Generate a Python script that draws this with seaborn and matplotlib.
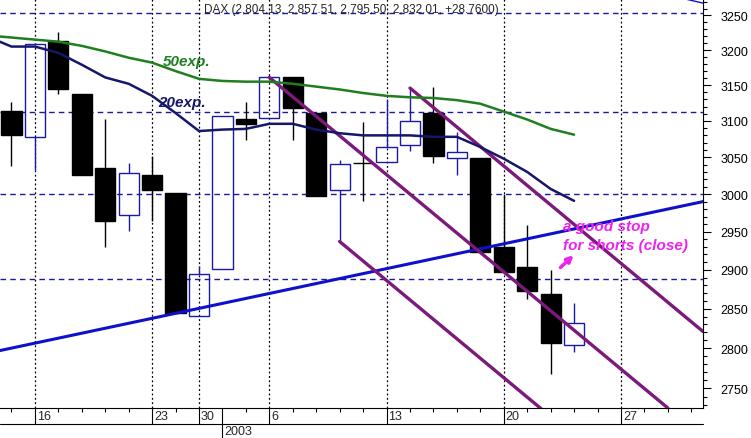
import matplotlib
matplotlib.use("Agg")
import matplotlib.pyplot as plt
from matplotlib import ticker, transforms
import numpy as np
import pandas as pd
import seaborn as sns

# trading sessions shown on the axis (index 0 = 2002-12-13)
sessions = ["2002-12-12", "2002-12-13", "2002-12-16", "2002-12-17", "2002-12-18",
            "2002-12-19", "2002-12-20", "2002-12-23", "2002-12-27", "2002-12-30",
            "2003-01-02", "2003-01-03", "2003-01-06", "2003-01-07", "2003-01-08",
            "2003-01-09", "2003-01-10", "2003-01-13", "2003-01-14", "2003-01-15",
            "2003-01-16", "2003-01-17", "2003-01-20", "2003-01-21", "2003-01-22",
            "2003-01-23", "2003-01-24", "2003-01-27", "2003-01-28", "2003-01-29",
            "2003-01-30", "2003-01-31"]

# daily candles 2002-12-13 .. 2003-01-23
opens = [3114, 3078, 3213, 3138, 3036, 2972, 3026, 3002, 2841, 2901, 3102, 3104, 3161,
         3111, 3005, 3042, 3044, 3067, 3111, 3049, 3049, 2930, 2904, 2869, 2804.13]
highs = [3127, 3210, 3226, 3138, 3103, 3042, 3052, 3002, 2905, 3107, 3126, 3161, 3161,
         3111, 3046, 3098, 3131, 3146, 3148, 3084, 3049, 3000, 2959, 2900, 2857.51]
lows = [3038, 3032, 3138, 3026, 2930, 2951, 2964, 2845, 2841, 2901, 3074, 3104, 3073,
        2998, 2937, 2991, 3044, 3059, 3042, 3026, 2923, 2897, 2863, 2768, 2795.50]
closes = [3081, 3209, 3144, 3026, 2964, 3028, 3005, 2845, 2894, 3107, 3096, 3161, 3118,
          2998, 3041, 3042, 3064, 3100, 3052, 3057, 2923, 2897, 2873, 2807, 2832.01]

# moving averages 2002-12-12 .. 2003-01-23
ema50 = [3221, 3218, 3215, 3212, 3206, 3198, 3189, 3182, 3170, 3159, 3156, 3155, 3155,
         3152, 3148, 3144, 3139, 3135, 3133, 3132, 3129, 3124, 3113, 3102, 3089, 3081]
ema20 = [3219, 3205, 3205, 3196, 3179, 3161, 3152, 3135, 3111, 3086, 3088, 3089, 3096,
         3096, 3088, 3083, 3080, 3080, 3080, 3078, 3078, 3064, 3048, 3030, 3007, 2991]

level_lines = [3253, 3112, 3000, 2888]
week_starts = ["2002-12-16", "2002-12-23", "2002-12-30", "2003-01-06",
               "2003-01-13", "2003-01-20", "2003-01-27"]
year_start = "2003-01-02"

# trend lines: (x0, x1), (y0, y1) in session index / index points
support_x, support_y = (-0.5, 29.5), (2797, 2990)
resist_x, resist_y = (27.5, 29.5), (3284, 3268)
channel_x = [(11, 28), (17, 29.5), (14, 22.6)]
channel_y = [(3161, 2726), (3146, 2821), (2937, 2725)]

title = "DAX (2,804.13, 2,857.51, 2,795.50, 2,832.01, +28.7600)"

sns.set_theme(style="white")
plt.rcParams['font.family'] = ['Liberation Sans', 'DejaVu Sans']

idx = {d: k - 1 for k, d in enumerate(sessions)}
df = pd.DataFrame({"o": opens, "h": highs, "l": lows, "c": closes})
df["x"] = np.arange(len(df))
ma = pd.DataFrame({"x": np.arange(-1, len(ema50) - 1), "e50": ema50, "e20": ema20})

blue_c = "#1a1aa8"
fig = plt.figure(figsize=(7.51, 4.39), dpi=100)
ax = fig.add_axes([0, 30 / 439, 703 / 751, 409 / 439])
ax.set_yscale("log")

for lv in level_lines:
    ax.axhline(lv, color="#1a1a9a", lw=1, ls=(0, (4, 3)), zorder=1)
for d in week_starts:
    ax.axvline(idx[d], color="black", lw=0.9, ls=(0, (1.5, 2)), zorder=1)

for _, r in df.iterrows():
    up = r.c > r.o
    col = blue_c if up else "black"
    top, bot = max(r.o, r.c), min(r.o, r.c)
    ax.vlines(r.x, top, r.h, color=col, lw=1, zorder=2)
    ax.vlines(r.x, r.l, bot, color=col, lw=1, zorder=2)
    ax.bar(r.x, max(top - bot, 0.01), bottom=bot, width=0.86,
           facecolor="none" if up else "black", edgecolor=col, lw=1, zorder=3)

ax.plot(support_x, support_y, color="#1010cc", lw=2.2, zorder=4)
ax.plot(resist_x, resist_y, color="#1010cc", lw=1, zorder=4)
for cx, cy in zip(channel_x, channel_y):
    ax.plot(cx, cy, color="#7b1a7b", lw=2.4, zorder=4)

sns.lineplot(data=ma, x="x", y="e50", ax=ax, color="#1f7f1f", lw=1.8, zorder=5)
sns.lineplot(data=ma, x="x", y="e20", ax=ax, color="#16166a", lw=1.8, zorder=5)

ax.set_xlim(-0.49, 29.5)
ax.set_ylim(2726, 3274)
ax.set_xlabel("")
ax.set_ylabel("")

# y axis on the right
ax.yaxis.tick_right()
ax.set_yticks(range(2750, 3251, 50))
ax.yaxis.set_major_formatter(ticker.FuncFormatter(lambda v, p: f"{v:.0f}"))
ax.yaxis.set_minor_locator(ticker.FixedLocator([v for v in range(2730, 3271, 10) if v % 50]))
ax.yaxis.set_minor_formatter(ticker.NullFormatter())
ax.tick_params(axis="y", which="major", length=5.5, width=0.8, pad=7, labelsize=9,
               direction="out", right=True, left=False, colors="black")
ax.tick_params(axis="y", which="minor", length=3, width=0.8, direction="out",
               right=True, left=False, color="black")

# x axis: day ticks, week labels, year row
major_x = sorted([idx[d] for d in week_starts] + [idx[year_start]])
ax.set_xticks(major_x)
ax.set_xticklabels([])
ax.xaxis.set_minor_locator(ticker.FixedLocator(range(0, 30)))
ax.tick_params(axis="x", which="major", length=11.5, width=0.8, direction="out",
               bottom=True, color="black")
ax.tick_params(axis="x", which="minor", length=3, width=0.8, direction="out",
               bottom=True, color="black")
lab_tr = transforms.offset_copy(ax.get_xaxis_transform(), fig=fig, x=2, y=0, units="dots")
for d in week_starts:
    ax.text(idx[d], -8 / 409, str(pd.Timestamp(d).day), transform=lab_tr,
            ha="left", va="center", fontsize=9, clip_on=False)
ax.plot([0, 1], [-16 / 409, -16 / 409], transform=ax.transAxes, color="black",
        lw=0.8, clip_on=False)
ax.plot([idx[year_start]] * 2, [-16 / 409, -30 / 409], transform=ax.get_xaxis_transform(),
        color="black", lw=0.8, clip_on=False)
ax.text(idx[year_start], -23.5 / 409, str(pd.Timestamp(year_start).year), transform=lab_tr,
        ha="left", va="center", fontsize=9, clip_on=False)

for s in ["left", "top"]:
    ax.spines[s].set_visible(False)
for s in ["right", "bottom"]:
    ax.spines[s].set_color("black")
    ax.spines[s].set_linewidth(0.8)

ax.text(0.5, 1 - 10 / 409, title, transform=ax.transAxes, ha="center", va="center",
        fontsize=8.5, zorder=6)
ax.text(6.46, 3185, "50exp.", color="#1f7f1f", fontsize=11, fontweight="bold",
        style="italic", ha="left", va="center", zorder=6)
ax.text(6.25, 3127, "20exp.", color="#16166a", fontsize=11, fontweight="bold",
        style="italic", ha="left", va="center", zorder=6)
mag = "#ee22ee"
ax.text(23.53, 2958, "a good stop", color=mag, fontsize=11, fontweight="bold",
        style="italic", ha="left", va="center", zorder=6)
ax.text(23.53, 2933, "for shorts (close)", color=mag, fontsize=11, fontweight="bold",
        style="italic", ha="left", va="center", zorder=6)
ax.annotate("", xy=(23.98, 2919), xytext=(23.42, 2903),
            arrowprops=dict(arrowstyle="-|>", color=mag, lw=2.5, mutation_scale=9,
                            shrinkA=0, shrinkB=0), zorder=6)

fig.savefig("out.png", dpi=100)
